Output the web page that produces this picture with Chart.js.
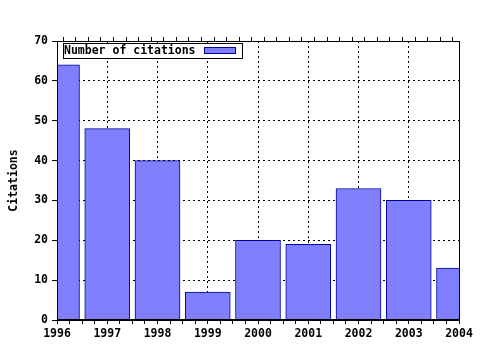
<!DOCTYPE html>
<html>
<head>
<meta charset="utf-8">
<script src="https://cdn.jsdelivr.net/npm/chart.js@4.4.0/dist/chart.umd.min.js"></script>
<style>
  html, body { margin: 0; padding: 0; background: #fff; }
  #wrap { width: 480px; height: 350px; }
</style>
</head>
<body>
<div id="wrap"><canvas id="citationsChart" width="480" height="350"></canvas></div>
<script>
const years = [1996, 1997, 1998, 1999, 2000, 2001, 2002, 2003, 2004];
const citations = [64, 48, 40, 7, 20, 19, 33, 30, 13];
const seriesLabel = "Number of citations";
const yAxisTitle = "Citations";

const FONT = { family: "'DejaVu Sans Mono', monospace", size: 11.5, weight: "bold" };

// box around the plot area, drawn above the bars
const framePlugin = {
  id: "frame",
  afterDatasetsDraw(chart) {
    const { ctx, chartArea } = chart;
    const l = Math.round(chartArea.left);
    const t = Math.round(chartArea.top);
    const r = Math.round(chartArea.right);
    const b = Math.round(chartArea.bottom);
    ctx.save();
    ctx.strokeStyle = "#000";
    ctx.lineWidth = 1;
    ctx.strokeRect(l + 0.5, t + 0.5, r - l, b - t - 1);
    ctx.restore();
  },
};

// gnuplot style key: text first, then the swatch, all in a box
const keyPlugin = {
  id: "keyBox",
  afterDraw(chart) {
    const { ctx, chartArea } = chart;
    const ds = chart.data.datasets[0];
    const x = Math.round(chartArea.left) + 6;
    const y = Math.round(chartArea.top) + 2;
    ctx.save();
    ctx.fillStyle = "#fff";
    ctx.fillRect(x, y, 179, 15);
    ctx.strokeStyle = "#000";
    ctx.lineWidth = 1;
    ctx.strokeRect(x + 0.5, y + 0.5, 179, 15);
    ctx.font = "bold 11.5px 'DejaVu Sans Mono'";
    ctx.fillStyle = "#000";
    ctx.textBaseline = "middle";
    ctx.fillText(ds.label, x + 1, y + 8.5);
    ctx.fillStyle = ds.backgroundColor;
    ctx.fillRect(x + 141, y + 4, 31, 6);
    ctx.strokeStyle = ds.borderColor;
    ctx.strokeRect(x + 141.5, y + 4.5, 31, 6);
    ctx.restore();
  },
};

const isYear = (v) => Math.abs(v - Math.round(v)) < 1e-6;

new Chart(document.getElementById("citationsChart"), {
  type: "bar",
  data: {
    datasets: [
      {
        label: seriesLabel,
        data: years.map((yr, i) => ({ x: yr, y: citations[i] })),
        backgroundColor: "#8080ff",
        borderColor: "#00009a",
        borderWidth: 1,
        barThickness: 45,
        clip: 0,
      },
    ],
  },
  options: {
    responsive: false,
    animation: false,
    layout: { padding: { right: 21, left: 0, top: 0, bottom: 0 } },
    plugins: {
      legend: { display: false },
      tooltip: { enabled: false },
    },
    scales: {
      x: {
        type: "linear",
        position: "bottom",
        min: years[0],
        max: years[years.length - 1],
        offset: false,
        afterFit: (s) => { s.height = 30; },
        grid: {
          offset: false,
          color: (c) => (isYear(c.tick.value) ? "#000" : "rgba(0,0,0,0)"),
          tickColor: "#000",
          tickLength: 4,
          lineWidth: 1,
        },
        border: { display: true, color: "#000", dash: [2, 3] },
        ticks: {
          stepSize: 0.25,
          autoSkip: false,
          maxRotation: 0,
          padding: 3,
          color: "#000",
          font: FONT,
          callback: (v) => (isYear(v) ? String(Math.round(v)) : ""),
        },
      },
      xTop: {
        type: "linear",
        position: "top",
        min: years[0],
        max: years[years.length - 1],
        offset: false,
        afterFit: (s) => { s.height = 41; },
        grid: {
          drawOnChartArea: false,
          tickColor: "#000",
          tickLength: 4,
        },
        border: { display: true, color: "#000" },
        ticks: {
          stepSize: 0.25,
          autoSkip: false,
          maxRotation: 0,
          callback: () => "",
        },
      },
      y: {
        min: 0,
        max: 70,
        afterFit: (s) => { s.width = 57; },
        grid: {
          color: "#000",
          tickColor: "#000",
          tickLength: 5,
          lineWidth: 1,
        },
        border: { display: true, color: "#000", dash: [2, 3] },
        ticks: {
          stepSize: 10,
          padding: 4,
          color: "#000",
          font: FONT,
        },
        title: {
          display: true,
          text: yAxisTitle,
          color: "#000",
          font: FONT,
          padding: { top: 7, bottom: 0 },
        },
      },
    },
  },
  plugins: [framePlugin, keyPlugin],
});
</script>
</body>
</html>
